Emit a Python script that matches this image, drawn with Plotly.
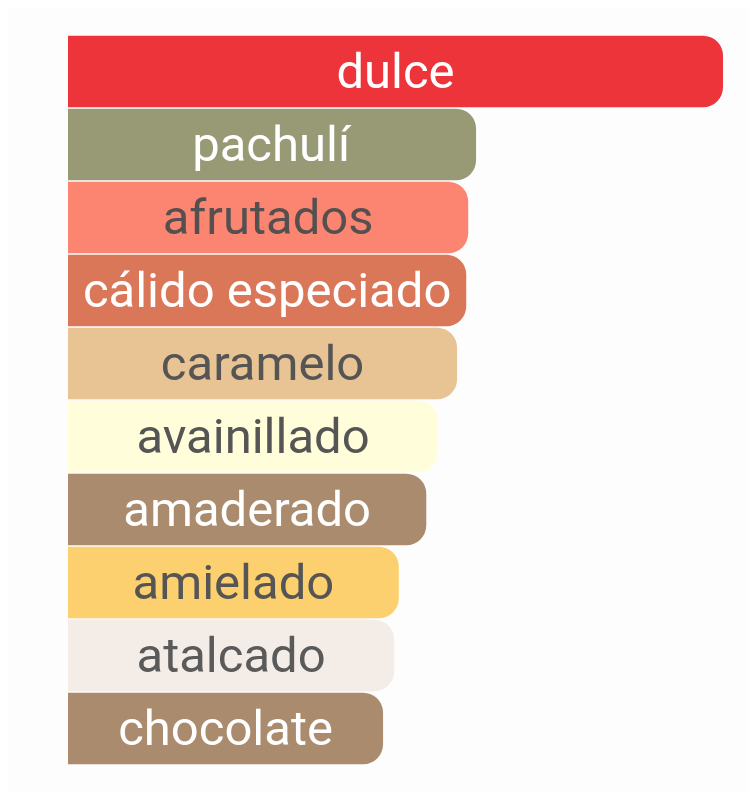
import plotly.graph_objects as go

categories = ["dulce", "pachulí", "afrutados", "cálido especiado", "caramelo",
              "avainillado", "amaderado", "amielado", "atalcado", "chocolate"]
values = [100, 62.3, 61.1, 60.8, 59.4, 56.5, 54.7, 50.5, 49.8, 48.1]
bar_colors = ["#ED343B", "#989975", "#FC8571", "#DB7759", "#E8C495",
              "#FFFDDA", "#AA8B6E", "#FCD06E", "#F4ECE6", "#AA8B6E"]
text_colors = ["#FFFFFF", "#FFFFFF", "#555050", "#FFFFFF", "#555555",
               "#555555", "#FFFFFF", "#555555", "#5a5a5a", "#FFFFFF"]

fig = go.Figure(go.Bar(
    x=values,
    y=categories,
    orientation="h",
    marker=dict(color=bar_colors, line=dict(width=0), cornerradius=20),
    text=categories,
    textposition="inside",
    insidetextanchor="middle",
    textangle=0,
    constraintext="none",
    textfont=dict(family="Roboto", size=49, color=text_colors),
    hoverinfo="skip",
))

fig.update_layout(
    width=756, height=791,
    margin=dict(l=60, r=41, t=27, b=34),
    paper_bgcolor="#FDFDFD",
    plot_bgcolor="#FDFDFD",
    bargap=0.02,
    showlegend=False,
    xaxis=dict(range=[0, 100], visible=False, fixedrange=True),
    yaxis=dict(autorange="reversed", visible=False, fixedrange=True),
)

fig.write_html("out.html")
